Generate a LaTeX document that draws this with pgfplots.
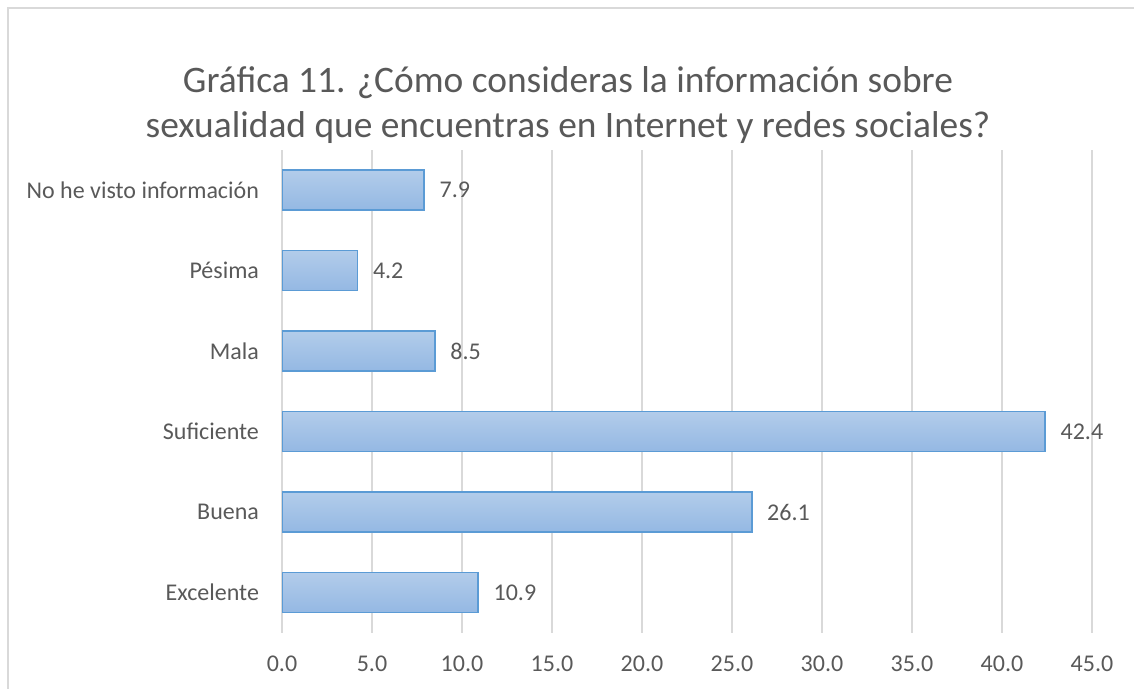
\documentclass[border=0pt]{standalone}
\usepackage{fontspec}
\setmainfont{Carlito}
\usepackage{pgfplots}
\pgfplotsset{compat=1.18}
\definecolor{txt}{HTML}{595959}
\definecolor{gridc}{HTML}{D9D9D9}
\definecolor{barline}{HTML}{5B9BD5}
\definecolor{bartop}{HTML}{B2CCEA}
\definecolor{barbot}{HTML}{94B8E3}
\begin{document}
\begin{tikzpicture}
\useasboundingbox (0,0) rectangle (567pt,344.5pt);
\draw[gridc, line width=0.75pt] (4pt,-5pt) -- (4pt,340.5pt) -- (575pt,340.5pt);
\node[font=\fontsize{18.7}{22.5}\selectfont, text=txt, align=center] at (284pt,292pt)
  {Gráfica 11. ¿Cómo consideras la información sobre\\sexualidad que encuentras en Internet y redes sociales?};
\begin{axis}[
  at={(141pt,28pt)}, anchor=south west,
  scale only axis, width=405pt, height=241.5pt,
  xmin=0, xmax=45, ymin=-0.5, ymax=5.5,
  xbar, bar width=20pt, bar shift=0pt,
  ytick={0,...,5},
  yticklabels={Excelente,Buena,Suficiente,Mala,Pésima,No he visto información},
  xtick={0,5,...,45},
  axis line style={draw=none}, major tick length=0pt,
  xmajorgrids, grid style={color=gridc, line width=0.75pt},
  tick label style={font=\fontsize{12}{14}\selectfont, text=txt},
  /pgf/number format/assume math mode=true,
  xticklabel style={yshift=-8pt, /pgf/number format/fixed, /pgf/number format/fixed zerofill, /pgf/number format/precision=1},
  yticklabel style={xshift=-8pt},
  nodes near coords,
  nodes near coords style={font=\fontsize{12}{14}\selectfont, text=txt, anchor=west, xshift=4pt,
    /pgf/number format/fixed, /pgf/number format/fixed zerofill, /pgf/number format/precision=1},
  barstyle/.style={xbar, bar shift=0pt, draw=barline, line width=0.75pt, top color=bartop, bottom color=barbot},
]
% one plot per bar so that each bar gets its own gradient
\addplot[barstyle] coordinates {(10.9,0)};
\addplot[barstyle] coordinates {(26.1,1)};
\addplot[barstyle] coordinates {(42.4,2)};
\addplot[barstyle] coordinates {(8.5,3)};
\addplot[barstyle] coordinates {(4.2,4)};
\addplot[barstyle] coordinates {(7.9,5)};
\end{axis}
\end{tikzpicture}
\end{document}
